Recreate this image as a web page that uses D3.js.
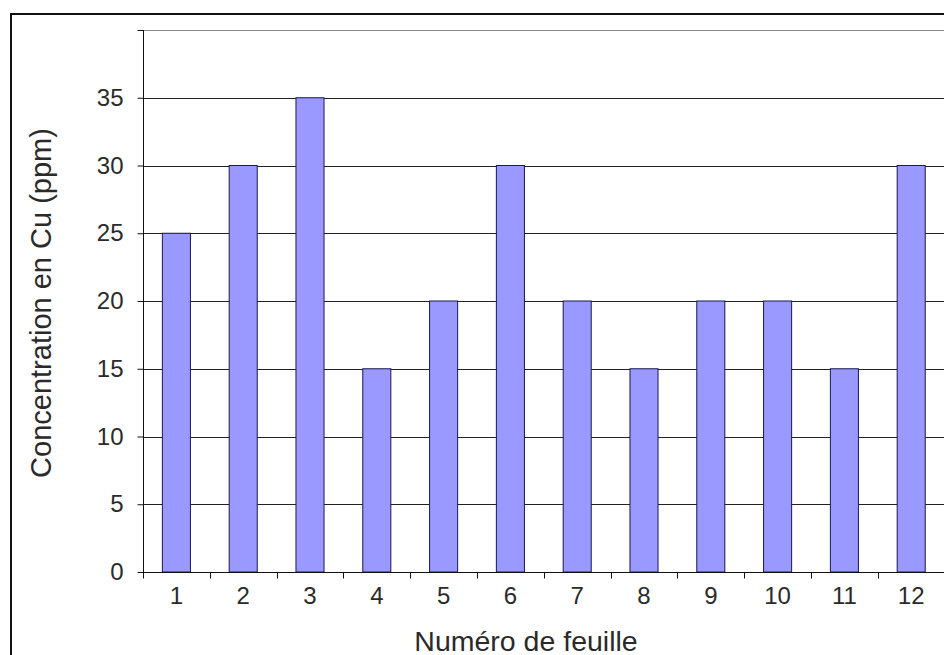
<!DOCTYPE html>
<html><head><meta charset="utf-8">
<script src="https://cdn.jsdelivr.net/npm/d3@7"></script>
<style>html,body{margin:0;padding:0;background:#fff;overflow:hidden}svg{display:block}</style>
</head><body>
<script>
const categories = ["1","2","3","4","5","6","7","8","9","10","11","12"];
const values = [25,30,35,15,20,30,20,15,20,20,15,30];
const yTicks = [0,5,10,15,20,25,30,35,40];
const yTickLabels = ["0","5","10","15","20","25","30","35",""];
const xTitle = "Numéro de feuille";
const yTitle = "Concentration en Cu (ppm)";

(function () {
const W = 944, H = 655;
const svg = d3.select("body").append("svg").attr("width", W).attr("height", H);
const font = "'Liberation Sans', Arial, sans-serif";

// outer chart border
svg.append("rect").attr("x", 11).attr("y", 14).attr("width", 1100).attr("height", 800)
  .attr("fill", "#fff").attr("stroke", "#111").attr("stroke-width", 2);

const pLeft = 143, pRight = 944.6, pTop = 30, pBottom = 572;
const x = d3.scaleBand().domain(categories).range([pLeft, pRight]).paddingInner(0.58).paddingOuter(0.29);
const y = d3.scaleLinear().domain([0, 40]).range([pBottom, pTop]);

// gridlines
svg.append("g").selectAll("line").data(yTicks.filter(d => d > 0)).join("line")
  .attr("x1", pLeft).attr("x2", pRight)
  .attr("y1", d => Math.round(y(d)) + 0.5).attr("y2", d => Math.round(y(d)) + 0.5)
  .attr("stroke", d => d === 40 ? "#8a8a8a" : "#222").attr("stroke-width", 1);

// bars
svg.append("g").selectAll("rect").data(values).join("rect")
  .attr("x", (d, i) => x(categories[i]))
  .attr("y", d => y(d))
  .attr("width", x.bandwidth())
  .attr("height", d => y(0) - y(d))
  .attr("fill", "#9999ff").attr("stroke", "#1a1a50").attr("stroke-width", 1);

// y axis
const yAxis = svg.append("g").attr("transform", `translate(${pLeft + 0.5},0)`)
  .call(d3.axisLeft(y).tickValues(yTicks).tickFormat((d, i) => yTickLabels[i]).tickSize(6).tickPadding(14));
yAxis.select(".domain").attr("stroke", "#111").attr("d", `M0,${pTop}V${pBottom + 6}`);
yAxis.selectAll(".tick line").attr("stroke", "#111");
yAxis.selectAll("text").attr("font-family", font).attr("font-size", 24).attr("fill", "#2a2a2a");

// x axis
const bounds = d3.range(categories.length + 1).map(i => pLeft + i * x.step());
const xg = svg.append("g").attr("transform", `translate(0,${pBottom + 0.5})`);
xg.append("line").attr("x1", pLeft).attr("x2", pRight).attr("stroke", "#111");
xg.selectAll("line.t").data(bounds).join("line").attr("class", "t")
  .attr("x1", d => Math.round(d) + 0.5).attr("x2", d => Math.round(d) + 0.5)
  .attr("y1", 0).attr("y2", 6).attr("stroke", "#111");
const xAxis = svg.append("g").attr("transform", `translate(0,${pBottom})`)
  .call(d3.axisBottom(x).tickSize(0).tickPadding(0));
xAxis.select(".domain").remove();
xAxis.selectAll("text").attr("font-family", font).attr("font-size", 24).attr("fill", "#2a2a2a")
  .attr("dy", null).attr("y", 32);

// titles
svg.append("text").attr("x", 526).attr("y", 651).attr("text-anchor", "middle")
  .attr("font-family", font).attr("font-size", 28.5).attr("fill", "#2a2a2a").text(xTitle);
svg.append("text").attr("transform", "translate(51,303) rotate(-90)").attr("text-anchor", "middle")
  .attr("font-family", font).attr("font-size", 29).attr("fill", "#2a2a2a").text(yTitle);
})();
</script>
</body></html>
